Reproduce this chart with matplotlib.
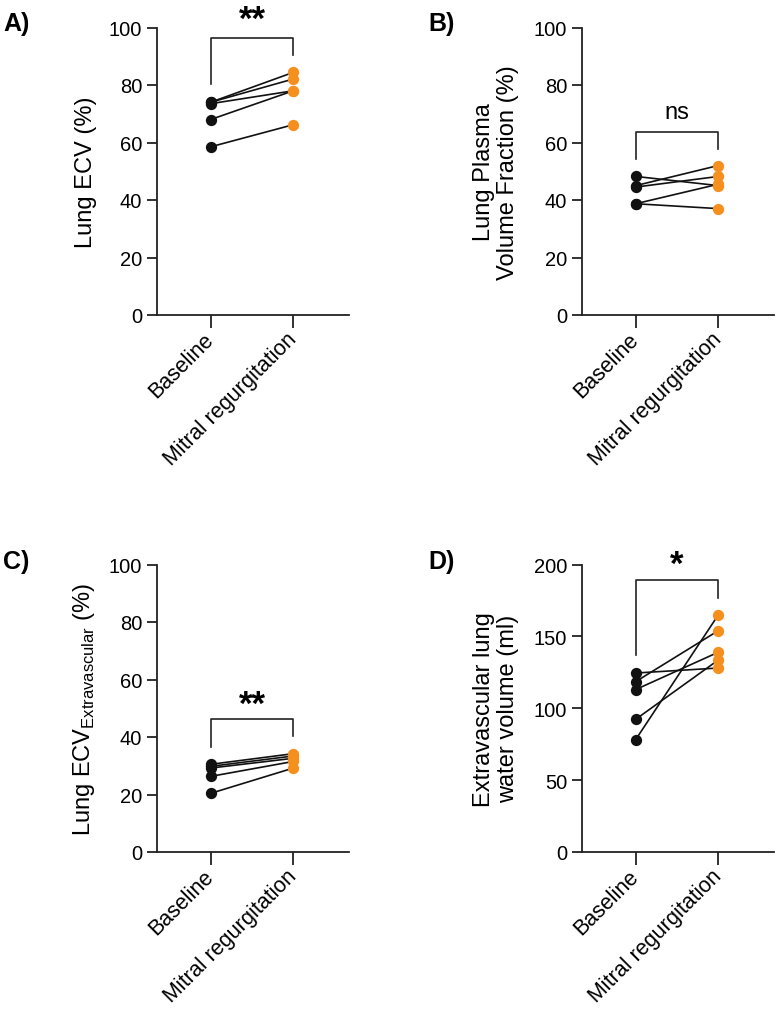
import matplotlib
matplotlib.use("Agg")
import matplotlib.pyplot as plt

plt.rcParams['font.family'] = ['Liberation Sans', 'DejaVu Sans']

categories = ["Baseline", "Mitral regurgitation"]

# Panel A: Lung ECV (%)
a_baseline = [74.0, 74.0, 73.5, 68.0, 58.5]
a_mr = [84.4, 82.1, 78.0, 78.0, 66.2]

# Panel B: Lung Plasma Volume Fraction (%)
b_baseline = [48.2, 45.0, 44.5, 38.7, 38.7]
b_mr = [45.0, 52.0, 48.2, 45.5, 37.0]

# Panel C: Lung ECV Extravascular (%)
c_baseline = [30.5, 29.8, 29.2, 26.3, 20.4]
c_mr = [34.2, 33.4, 32.6, 31.5, 29.2]

# Panel D: Extravascular lung water volume (ml)
d_baseline = [124.5, 118.5, 113.0, 92.3, 78.2]
d_mr = [128.0, 154.0, 139.0, 133.6, 165.0]

sig_labels = ["**", "ns", "**", "*"]

BLACK = "#111111"
ORANGE = "#F5901E"

W, H = 776, 1012
fig = plt.figure(figsize=(W / 100, H / 100), dpi=100)

def make_ax(left_px, top_px, bottom_px, width_px=192.3):
    return fig.add_axes([left_px / W, 1 - bottom_px / H, width_px / W, (bottom_px - top_px) / H])

axes = [
    make_ax(156.7, 28.5, 316),
    make_ax(581.7, 28.5, 316),
    make_ax(156.7, 565.5, 853),
    make_ax(581.7, 565.5, 853),
]

data = [(a_baseline, a_mr), (b_baseline, b_mr), (c_baseline, c_mr), (d_baseline, d_mr)]
ylims = [(0, 100), (0, 100), (0, 100), (0, 200)]
yticks = [[0, 20, 40, 60, 80, 100]] * 3 + [[0, 50, 100, 150, 200]]
ylabels = ["Lung ECV (%)", "Lung Plasma\nVolume Fraction (%)",
           r"Lung ECV$_{\mathregular{Extravascular}}$ (%)",
           "Extravascular lung\nwater volume (ml)"]
ylabel_x = [-0.31, -0.325, -0.31, -0.325]
letters = ["A)", "B)", "C)", "D)"]
letter_pos = [(3, 31), (428, 31), (3, 569), (428, 569)]
# bracket: (top, left leg end, right leg end, text y)
brackets = [(96.3, 80.3, 90.4, 103.0),
            (63.5, 54.3, 57.7, 70.6),
            (46.3, 36.6, 40.5, 51.5),
            (189.5, 136.8, 177.0, 200.0)]

for i, ax in enumerate(axes):
    base, mr = data[i]
    for b, m in zip(base, mr):
        ax.plot([0, 1], [b, m], color=BLACK, lw=1.2, zorder=2)
    ax.scatter([0] * len(base), base, s=66, color=BLACK, zorder=3, linewidths=0)
    ax.scatter([1] * len(mr), mr, s=66, color=ORANGE, zorder=3, linewidths=0)

    ax.set_xlim(-0.653, 1.673)
    ax.set_ylim(*ylims[i])
    ax.set_yticks(yticks[i])
    ax.set_xticks([0, 1])
    ax.set_xticklabels(categories, rotation=45, ha='right', va='center',
                       rotation_mode='anchor', fontsize=15.5)
    ax.tick_params(axis='y', labelsize=14.5, length=7, width=1.3, color='#222222', pad=3.5)
    ax.tick_params(axis='x', length=9, width=1.3, color='#222222', pad=6)
    for s in ['top', 'right']:
        ax.spines[s].set_visible(False)
    for s in ['left', 'bottom']:
        ax.spines[s].set_linewidth(1.3)
        ax.spines[s].set_color('#222222')
    ax.set_ylabel(ylabels[i], fontsize=17, linespacing=1.15)
    ax.yaxis.set_label_coords(ylabel_x[i], 0.5)

    top, lleg, rleg, ty = brackets[i]
    ax.plot([0, 0, 1, 1], [lleg, top, top, rleg], color='#222222', lw=1.2, clip_on=False)
    if sig_labels[i] == "ns":
        ax.text(0.5, ty, "ns", ha='center', va='center', fontsize=17, clip_on=False)
    else:
        ax.text(0.5, ty, sig_labels[i], ha='center', va='center', fontsize=25,
                fontweight='bold', clip_on=False)

    lx, ly = letter_pos[i]
    fig.text(lx / W, 1 - ly / H, letters[i], fontsize=18, fontweight='bold',
             ha='left', va='baseline')

fig.savefig("out.png", dpi=100, facecolor='white')
